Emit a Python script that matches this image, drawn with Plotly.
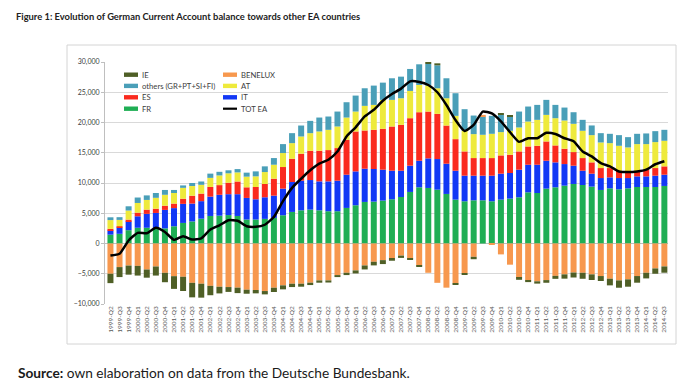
import plotly.graph_objects as go

QUARTERS = ["1999-Q2","1999-Q3","1999-Q4",
            "2000-Q1","2000-Q2","2000-Q3","2000-Q4",
            "2001-Q1","2001-Q2","2001-Q3","2001-Q4",
            "2002-Q1","2002-Q2","2002-Q3","2002-Q4",
            "2003-Q1","2003-Q2","2003-Q3","2003-Q4",
            "2004-Q1","2004-Q2","2004-Q3","2004-Q4",
            "2005-Q1","2005-Q2","2005-Q3","2005-Q4",
            "2006-Q1","2006-Q2","2006-Q3","2006-Q4",
            "2007-Q1","2007-Q2","2007-Q3","2007-Q4",
            "2008-Q1","2008-Q2","2008-Q3","2008-Q4",
            "2009-Q1","2009-Q2","2009-Q3","2009-Q4",
            "2010-Q1","2010-Q2","2010-Q3","2010-Q4",
            "2011-Q1","2011-Q2","2011-Q3","2011-Q4",
            "2012-Q1","2012-Q2","2012-Q3","2012-Q4",
            "2013-Q1","2013-Q2","2013-Q3","2013-Q4",
            "2014-Q1","2014-Q2","2014-Q3"]

FR = [1460,1600,2200,2600,2600,2450,2500,2850,3400,3650,4100,4550,4600,4700,4550,3960,3960,4070,4230,4670,
      5220,5490,5600,5490,5330,5330,5880,6320,6870,6920,7090,7310,7690,8520,9290,9180,8900,8190,7250,6980,
      7140,7140,6980,7250,7420,7640,8460,8350,9070,9290,9560,9840,9670,9400,8850,9120,8960,9120,9340,9340,
      9340,9510]
IT = [700,1050,1450,1900,2300,2600,3050,3000,3150,2950,2900,3200,3450,3450,3600,3570,3350,3570,3680,4400,
      4940,4890,4890,4780,4940,5050,5490,5600,5490,5390,5110,4720,4340,4340,4390,4890,5060,5000,4780,4230,
      4070,4070,4230,4290,4230,4560,4560,4670,4610,4120,3570,3020,2360,2140,1970,1810,1860,1700,1760,1760,
      1870,1860]
ES = [260,200,300,600,700,700,700,750,850,1300,1250,1600,1600,1900,2100,1760,2030,2200,2800,3570,
      3850,4460,4840,5060,5170,5390,5770,6600,6320,6480,6760,7310,7590,7850,8020,7740,7470,6310,5220,4010,
      2910,2910,2910,3020,3020,3020,3020,3130,3190,2800,2530,2250,2090,1870,1650,1540,1210,830,820,1100,
      1260,1380]
AT = [1450,1050,1500,1600,1600,1800,1800,1750,1800,1600,1450,1500,1600,1550,1500,1760,1760,1970,2310,2310,
      2580,2850,2910,3190,3350,3570,3680,3290,4070,4120,4780,4400,4390,4510,4510,4290,4230,4510,3850,3410,
      3960,3850,4010,3850,3960,3960,4120,4290,4390,4500,4670,4670,4510,4500,4230,4120,4120,4230,4510,4230,
      4290,4230]
OTHERS = [460,450,700,900,750,800,800,500,400,500,550,700,600,500,550,660,820,940,1100,1480,
          1650,1810,2030,2300,2200,2470,2530,2640,2910,3190,2850,3570,3570,3630,3410,3570,3790,3300,3740,3570,
          3070,3020,2970,2850,2410,2630,2480,2470,2480,2200,2140,1920,1810,1600,1540,1540,1760,1700,1700,1760,
          1810,1810]
BENELUX = [-5000,-3900,-3650,-3700,-4300,-3800,-4850,-5400,-5500,-6500,-6650,-7000,-7150,-7200,-7300,-7640,
           -7690,-7860,-7310,-6920,-6650,-6650,-6480,-6100,-6100,-5220,-4840,-4450,-3630,-3020,-2750,-2400,
           -2000,-2500,-3630,-4840,-6500,-7300,-6600,-4900,-2200,270,-250,-1800,-3500,-5700,-6100,-6250,
           -6050,-5350,-5100,-4800,-4840,-5100,-5380,-5820,-6100,-5930,-5380,-4840,-4120,-3790]
IE = [-1550,-1650,-1500,-1600,-1350,-1500,-1550,-2100,-2350,-2400,-2300,-1550,-1100,-800,-900,-660,
      -550,-550,-710,-660,-550,-490,-390,-380,-350,-330,-380,-500,-660,-600,-650,-450,
      -380,-200,-150,270,330,0,-150,-300,-400,0,0,270,200,-300,-280,-380,
      -440,-490,-710,-820,-990,-930,-820,-1100,-1210,-1210,-1100,-930,-880,-1040]
TOT_EA = [-2000,-1700,500,1750,1700,2600,1900,600,1200,650,850,2300,3000,3850,3750,
          2850,2750,3100,4400,7000,9200,10700,12100,13200,13850,15200,17700,19200,21000,22100,23600,
          24700,25600,26800,26700,26200,25000,22900,20400,18600,19600,21800,21500,20200,18400,16800,
          17400,17400,18300,18100,17400,16900,15200,14400,13300,12750,11900,11800,11900,12200,13100,13600]

COLORS = {"FR": "#1fae54", "IT": "#1238f5", "ES": "#fa2a1e", "AT": "#eeea3c",
          "others (GR+PT+SI+FI)": "#4a9fb8", "BENELUX": "#f7984e", "IE": "#4f5f26",
          "TOT EA": "#000000"}

W, H = 691, 387
L, R, T, B = 105, 23, 62, 83
PW, PH = W - L - R, H - T - B
FONT = "Lato"

def px(x):
    return (x - L) / PW

def py(y):
    return (H - B - y) / PH

fig = go.Figure()
for name, vals in [("FR", FR), ("IT", IT), ("ES", ES), ("AT", AT),
                   ("others (GR+PT+SI+FI)", OTHERS), ("BENELUX", BENELUX), ("IE", IE)]:
    fig.add_trace(go.Bar(x=QUARTERS, y=vals, name=name, marker_color=COLORS[name],
                         marker_line_width=0, showlegend=False))
fig.add_trace(go.Scatter(x=QUARTERS, y=TOT_EA, name="TOT EA", mode="lines",
                         line=dict(color="black", width=2.5, shape="spline", smoothing=0.5),
                         showlegend=False))

shapes = [dict(type="rect", xref="paper", yref="paper", x0=px(67), x1=px(676), y0=py(344), y1=py(45),
               line=dict(color="#d4d4d4", width=1), layer="below")]
annotations = []
legend_rows = [
    (124, 74.7, "IE", "bar"), (124, 85.9, "others (GR+PT+SI+FI)", "bar"),
    (124, 97.3, "ES", "bar"), (124, 108.7, "FR", "bar"),
    (223, 74.7, "BENELUX", "bar"), (223, 85.9, "AT", "bar"),
    (223, 97.3, "IT", "bar"), (223, 108.7, "TOT EA", "line"),
]
for x0, yc, name, kind in legend_rows:
    if kind == "bar":
        shapes.append(dict(type="rect", xref="paper", yref="paper", x0=px(x0), x1=px(x0 + 14),
                           y0=py(yc + 2.2), y1=py(yc - 2.2), fillcolor=COLORS[name], line_width=0))
    else:
        shapes.append(dict(type="line", xref="paper", yref="paper", x0=px(x0), x1=px(x0 + 14),
                           y0=py(yc), y1=py(yc), line=dict(color="black", width=2.2)))
    annotations.append(dict(xref="paper", yref="paper", x=px(x0 + 15.5), y=py(yc), text=name,
                            showarrow=False, xanchor="left", yanchor="middle",
                            font=dict(family=FONT, size=7.7, color="#404040")))

annotations.append(dict(xref="paper", yref="paper", x=px(16), y=py(372),
                        text="<b>Source:</b> own elaboration on data from the Deutsche Bundesbank.",
                        showarrow=False, xanchor="left", yanchor="middle",
                        font=dict(family=FONT, size=13.7, color="#1a1a1a")))

fig.update_layout(
    width=W, height=H,
    margin=dict(l=L, r=R, t=T, b=B),
    paper_bgcolor="white", plot_bgcolor="white",
    barmode="relative", bargap=0.34,
    font=dict(family=FONT, color="#404040"),
    title=dict(text="<b>Figure 1: Evolution of German Current Account balance towards other EA countries</b>",
               xref="container", yref="container", x=16 / W, y=1 - 17 / H,
               xanchor="left", yanchor="middle",
               font=dict(family=FONT, size=9.35, color="#222222")),
    shapes=shapes, annotations=annotations,
    xaxis=dict(type="category", tickangle=-90, range=[-0.6, 61.4], showgrid=False,
               tickfont=dict(family=FONT, size=6.5, color="#595959"), ticks="", showline=False),
    yaxis=dict(range=[-10000, 30000], dtick=5000, tickformat=",", gridcolor="#d9d9d9", gridwidth=1,
               showline=True, linecolor="#bfbfbf", ticks="outside", ticklen=3, tickcolor="#bfbfbf",
               zeroline=True, zerolinecolor="#bfbfbf", zerolinewidth=1,
               tickfont=dict(family=FONT, size=7, color="#404040")),
)

fig.write_html("out.html", config={"displayModeBar": False},
               post_script="document.body.style.margin='0';")
